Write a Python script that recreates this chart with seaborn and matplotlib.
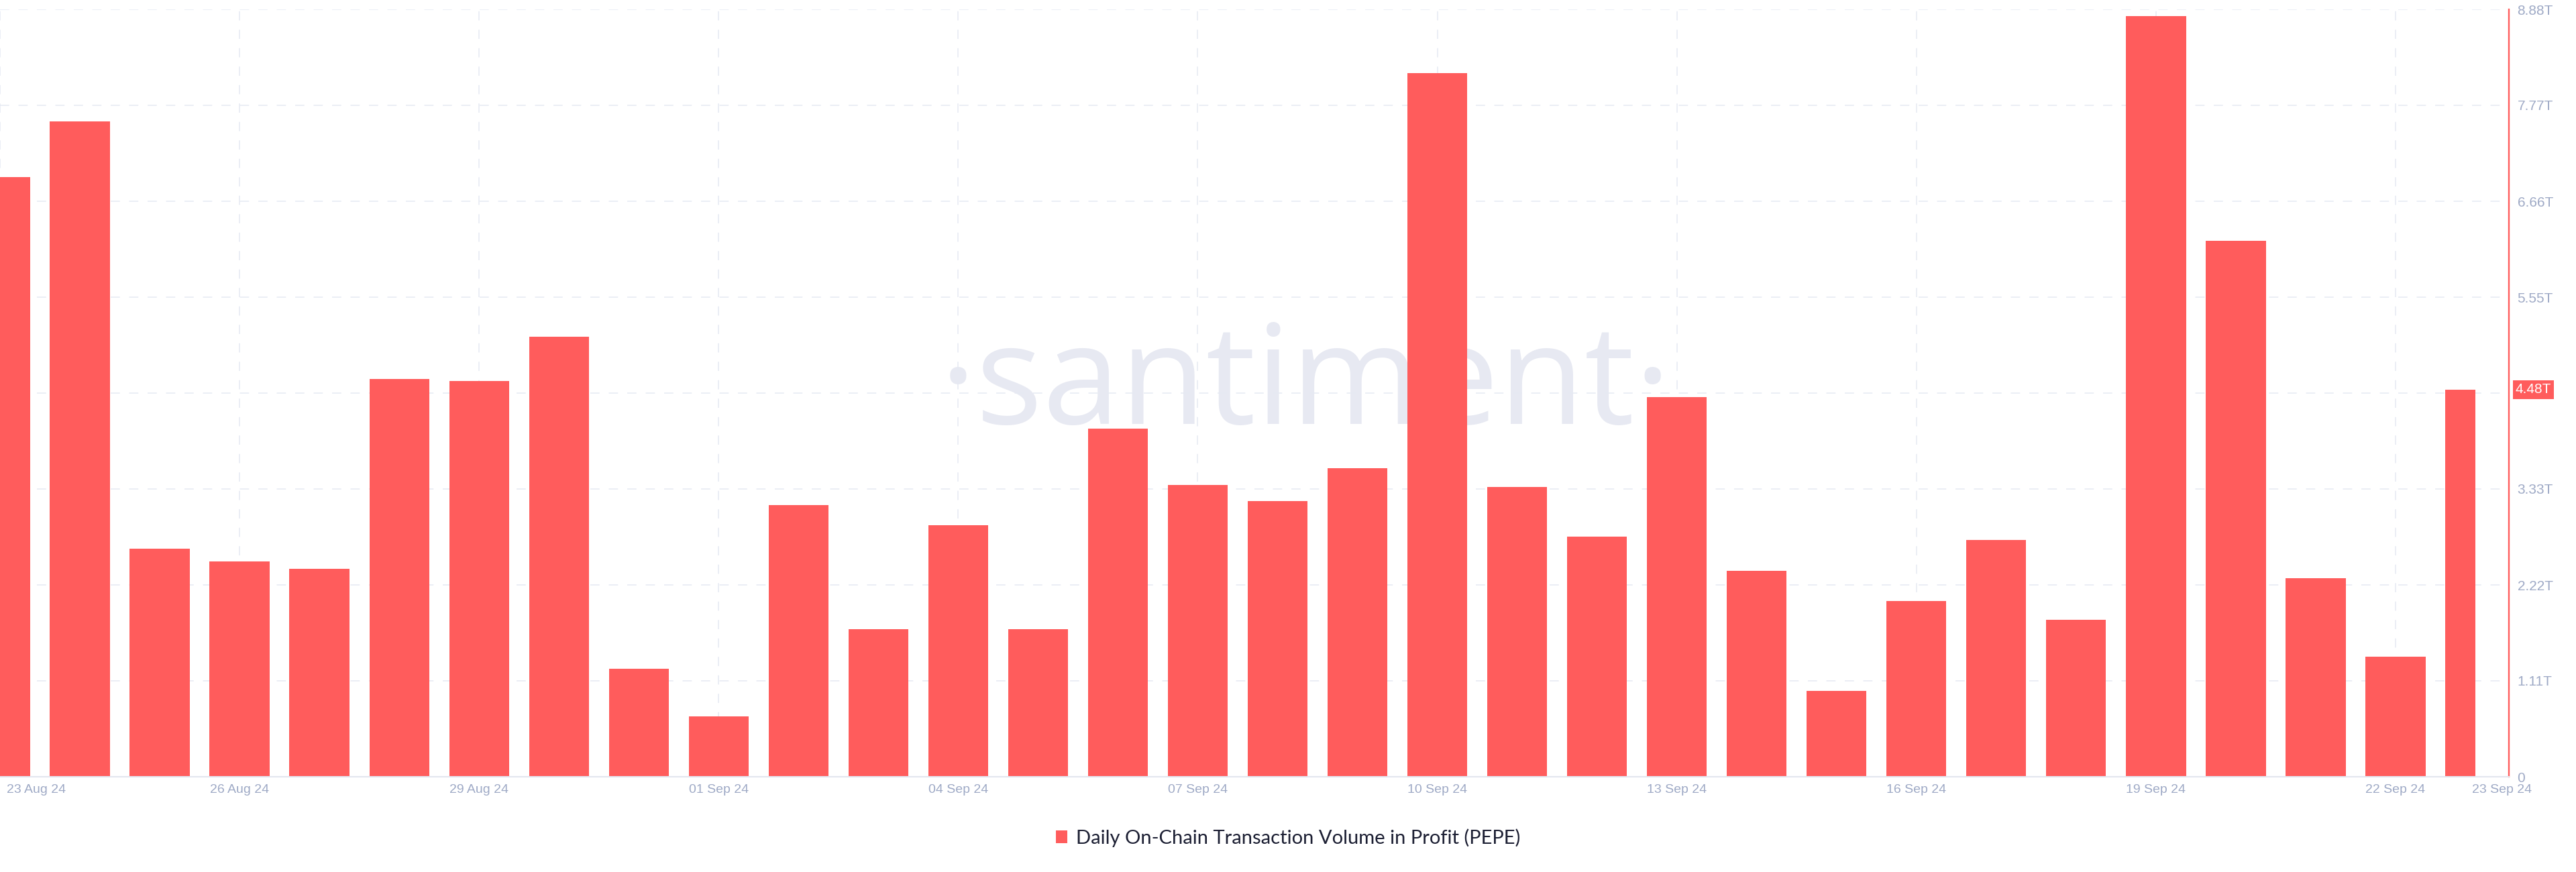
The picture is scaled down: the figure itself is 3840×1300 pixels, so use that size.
import matplotlib
matplotlib.use('Agg')
import matplotlib.pyplot as plt
import seaborn as sns
import pandas as pd
from matplotlib.patches import Rectangle, Patch
from matplotlib.transforms import ScaledTranslation

# ---------------- data ----------------
days = ['23 Aug 24', '24 Aug 24', '25 Aug 24', '26 Aug 24', '27 Aug 24', '28 Aug 24',
        '29 Aug 24', '30 Aug 24', '31 Aug 24', '01 Sep 24', '02 Sep 24', '03 Sep 24',
        '04 Sep 24', '05 Sep 24', '06 Sep 24', '07 Sep 24', '08 Sep 24', '09 Sep 24',
        '10 Sep 24', '11 Sep 24', '12 Sep 24', '13 Sep 24', '14 Sep 24', '15 Sep 24',
        '16 Sep 24', '17 Sep 24', '18 Sep 24', '19 Sep 24', '20 Sep 24', '21 Sep 24',
        '22 Sep 24', '23 Sep 24']
volume_T = [6.94, 7.58, 2.64, 2.49, 2.41, 4.60, 4.58, 5.09, 1.25, 0.70, 3.14, 1.71,
            2.91, 1.71, 4.03, 3.38, 3.19, 3.57, 8.14, 3.35, 2.78, 4.39, 2.38, 0.99,
            2.03, 2.74, 1.82, 8.80, 6.20, 2.30, 1.39, 4.48]
tick_days = ['23 Aug 24', '26 Aug 24', '29 Aug 24', '01 Sep 24', '04 Sep 24', '07 Sep 24',
             '10 Sep 24', '13 Sep 24', '16 Sep 24', '19 Sep 24', '22 Sep 24', '23 Sep 24']
y_ticks_T = [0, 1.11, 2.22, 3.33, 4.44, 5.55, 6.66, 7.77, 8.88]
y_tick_labels = ['0', '1.11T', '2.22T', '3.33T', '', '5.55T', '6.66T', '7.77T', '8.88T']
latest_value = 4.48
latest_label = '4.48T'
series_name = 'Daily On-Chain Transaction Volume in Profit (PEPE)'

RED = '#FF5C5C'
TICK = '#9FAAC6'
GRID = '#E6E9F2'

sns.set_style('white')
plt.rcParams['font.family'] = ['Liberation Sans', 'DejaVu Sans']
plt.rcParams['axes.unicode_minus'] = False

fig = plt.figure(figsize=(38.4, 13), dpi=100)
fig.patch.set_facecolor('white')
ax = fig.add_axes([0, 1 - 1158 / 1300, 3740 / 3840, (1158 - 14) / 1300])

df = pd.DataFrame({'day': days, 'volume': volume_T})
sns.barplot(data=df, x='day', y='volume', order=days, color=RED, saturation=1,
            width=0.75, linewidth=0, ax=ax, zorder=2)

# clip bars at the last day's centre (partial last day)
clip = Rectangle((-1, -1), len(days), 100, transform=ax.transData)
for p in ax.patches:
    p.set_clip_path(clip)

ax.set_xlim(0, len(days) - 1 + 0.42)
ax.set_ylim(0, y_ticks_T[-1])

# watermark
ax.text(0.5068, 0.514, '·santiment·', transform=fig.transFigure, ha='center',
        va='baseline', fontsize=150, color='#E7E9F2',
        family=['Open Sans', 'DejaVu Sans'], zorder=0.3)

# axes / ticks
ax.yaxis.tick_right()
ax.set_yticks(y_ticks_T, y_tick_labels)
pos = [days.index(t) for t in tick_days]
ax.set_xticks(pos, tick_days)
ax.set_xlabel('')
ax.set_ylabel('')
ax.tick_params(axis='y', length=0, pad=9, labelsize=15, labelcolor=TICK)
ax.tick_params(axis='x', length=0, pad=8, labelsize=14, labelcolor=TICK)

ax.set_axisbelow(True)
ax.grid(True, axis='both', color=GRID, lw=1.1, ls=(0, (9, 9)))
ax.xaxis.get_major_ticks()[-1].gridline.set_visible(False)

xl = ax.get_xticklabels()
xl[0].set_ha('left')
xl[0].set_transform(xl[0].get_transform() + ScaledTranslation(0.10, 0, fig.dpi_scale_trans))
xl[-1].set_ha('left')
xl[-1].set_transform(xl[-1].get_transform() + ScaledTranslation(-0.05, 0, fig.dpi_scale_trans))

for s in ['left', 'top']:
    ax.spines[s].set_visible(False)
ax.spines['right'].set_color(RED)
ax.spines['right'].set_linewidth(1.7)
ax.spines['bottom'].set_color('#E3E6EF')
ax.spines['bottom'].set_linewidth(1.5)

# latest value marker label
ax.annotate(latest_label, xy=(1, latest_value), xycoords=('axes fraction', 'data'),
            xytext=(7, 0), textcoords='offset points', ha='left', va='center',
            fontsize=15, color='white',
            bbox=dict(boxstyle='square,pad=0.2', fc=RED, ec='none'))

# legend
fig.legend(handles=[Patch(facecolor=RED, edgecolor='none')], labels=[series_name],
           loc='center', bbox_to_anchor=(0.5, 1 - 1249 / 1300), frameon=False,
           prop={'family': ['Lato', 'DejaVu Sans'], 'size': 21},
           handlelength=0.6, handleheight=0.6, handletextpad=0.45,
           labelcolor='#1C1F33')

fig.savefig('out.png', dpi=100)
